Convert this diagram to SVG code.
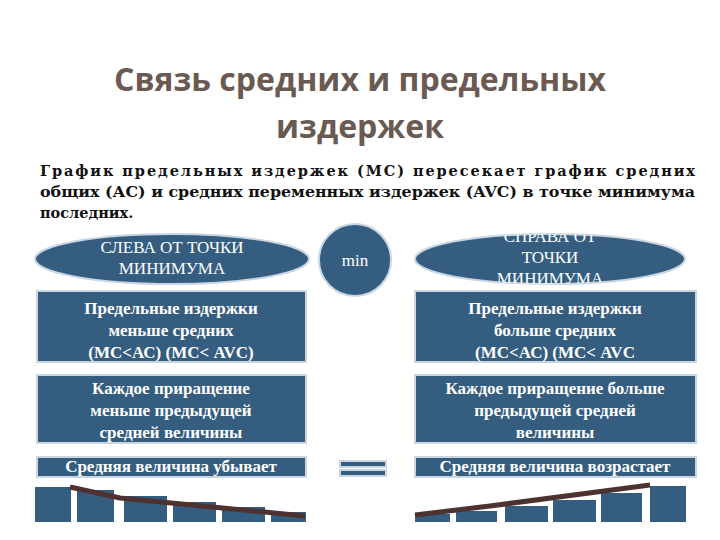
<svg xmlns="http://www.w3.org/2000/svg" width="720" height="540" viewBox="0 0 720 540">
<style>
.bx{fill:#345d80;stroke:#c9d6e2;stroke-width:2}
.w{fill:#fff;font-family:"Liberation Serif",serif;text-anchor:middle}
.b{font-weight:bold;font-size:17px}
.p{font-family:"DejaVu Serif",serif;font-weight:bold;font-size:14.5px;fill:#111}
.bar{fill:#345d80}
</style>
<defs><clipPath id="rc"><ellipse cx="550" cy="259" rx="135" ry="25"/></clipPath></defs>
<rect width="720" height="540" fill="#fff"/>
<g id="title" font-family="Open Sans,sans-serif" font-weight="bold" font-size="32" fill="#6a5a52" text-anchor="middle">
<text x="360" y="91">Связь средних и предельных</text>
<text x="360" y="138">издержек</text>
</g>
<g id="para">
<text class="p" x="40" y="176" textLength="655" lengthAdjust="spacing">График предельных издержек  (МС) пересекает график средних</text>
<text class="p" x="40" y="197" textLength="655" lengthAdjust="spacingAndGlyphs">общих (АС) и средних переменных издержек (AVC) в точке минимума</text>
<text class="p" x="40" y="218">последних.</text>
</g>
<g id="left-ell"><ellipse class="bx" cx="172" cy="259" rx="137" ry="25"/>
<text class="w" font-size="17" x="172" y="253">СЛЕВА ОТ ТОЧКИ</text><text class="w" font-size="17" x="172" y="274">МИНИМУМА</text></g>
<g id="min"><circle class="bx" cx="355" cy="260" r="36"/><text class="w" font-size="17" x="355" y="266">min</text></g>
<g id="right-ell"><ellipse class="bx" cx="550" cy="259" rx="135" ry="25"/>
<g clip-path="url(#rc)"><text class="w" font-size="17" x="550" y="242">СПРАВА ОТ</text><text class="w" font-size="17" x="550" y="263">ТОЧКИ</text><text class="w" font-size="17" x="550" y="284">МИНИМУМА</text></g></g>
<g id="l1"><rect class="bx" x="37" y="291" width="269" height="71"/>
<g class="w b"><text x="171" y="314">Предельные издержки</text><text x="171" y="336">меньше средних</text><text x="171" y="358">(МС&lt;АС)  (МС&lt; AVC)</text></g></g>
<g id="r1"><rect class="bx" x="415" y="291" width="281" height="71"/>
<g class="w b"><text x="555" y="314">Предельные издержки</text><text x="555" y="336">больше средних</text><text x="555" y="358">(МС&lt;АС)  (МС&lt; AVC</text></g></g>
<g id="l2"><rect class="bx" x="37" y="375" width="269" height="68"/>
<g class="w b"><text x="171" y="394">Каждое приращение</text><text x="171" y="416">меньше предыдущей</text><text x="171" y="438">средней величины</text></g></g>
<g id="r2"><rect class="bx" x="415" y="375" width="281" height="68"/>
<g class="w b"><text x="555" y="394">Каждое приращение  больше</text><text x="555" y="416">предыдущей средней</text><text x="555" y="438">величины</text></g></g>
<g id="l3"><rect class="bx" x="37" y="457" width="269" height="20"/><text class="w b" x="171" y="472">Средняя величина убывает</text></g>
<g id="eq"><rect class="bx" x="340" y="461" width="46" height="6"/><rect class="bx" x="340" y="470" width="46" height="6"/></g>
<g id="r3"><rect class="bx" x="415" y="457" width="281" height="20"/><text class="w b" x="555" y="472">Средняя величина возрастает</text></g>
<g id="bars-left">
<rect class="bar" x="35" y="487" width="36" height="35"/><rect class="bar" x="77" y="490" width="37" height="32"/><rect class="bar" x="124" y="496" width="43" height="26"/><rect class="bar" x="173" y="502" width="43" height="20"/><rect class="bar" x="222" y="507" width="43" height="15"/><rect class="bar" x="271" y="512" width="35" height="10"/>
<path d="M70 487 L120 498 L305 516" stroke="#4e3230" stroke-width="5" fill="none"/>
</g>
<g id="bars-right">
<rect class="bar" x="415" y="514" width="35" height="8"/><rect class="bar" x="456" y="511" width="41" height="11"/><rect class="bar" x="505" y="506" width="43" height="16"/><rect class="bar" x="553" y="500" width="43" height="22"/><rect class="bar" x="601" y="493" width="41" height="29"/><rect class="bar" x="650" y="486" width="36" height="36"/>
<path d="M415 515 L490 506 L650 485" stroke="#4e3230" stroke-width="5" fill="none"/>
</g>
</svg>
